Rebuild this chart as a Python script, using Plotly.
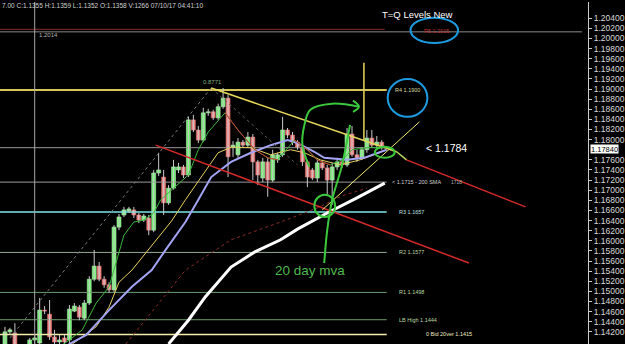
import plotly.graph_objects as go

# ---------------- candle data (bar index, prices) ----------------
bars = list(range(77))
opens = [1.1384, 1.1420, 1.1418, 1.1388, 1.1380, 1.1384, 1.1404, 1.1398, 1.1463, 1.1455,
         1.1410, 1.1400, 1.1408, 1.1404, 1.1461, 1.1469, 1.1447, 1.1477, 1.1524, 1.1550,
         1.1524, 1.1513, 1.1503, 1.1627, 1.1651, 1.1659, 1.1661, 1.1651, 1.1641, 1.1645,
         1.1621, 1.1734, 1.1726, 1.1675, 1.1704, 1.1740, 1.1746, 1.1730, 1.1839, 1.1819,
         1.1799, 1.1853, 1.1855, 1.1843, 1.1865, 1.1882, 1.1785, 1.1770, 1.1795, 1.1789,
         1.1805, 1.1756, 1.1724, 1.1756, 1.1720, 1.1760, 1.1770, 1.1819, 1.1809, 1.1795,
         1.1785, 1.1756, 1.1740, 1.1724, 1.1754, 1.1744, 1.1720, 1.1746, 1.1756, 1.1750,
         1.1811, 1.1770, 1.1764, 1.1780, 1.1803, 1.1789, 1.1795]
highs = [1.1430, 1.1428, 1.1437, 1.1394, 1.1388, 1.1408, 1.1414, 1.1487, 1.1471, 1.1483,
         1.1424, 1.1414, 1.1414, 1.1473, 1.1477, 1.1473, 1.1483, 1.1530, 1.1582, 1.1558,
         1.1530, 1.1518, 1.1631, 1.1653, 1.1667, 1.1667, 1.1667, 1.1655, 1.1653, 1.1651,
         1.1740, 1.1774, 1.1740, 1.1710, 1.1760, 1.1754, 1.1750, 1.1845, 1.1849, 1.1827,
         1.1863, 1.1861, 1.1859, 1.1871, 1.1902, 1.1888, 1.1797, 1.1803, 1.1799, 1.1815,
         1.1811, 1.1760, 1.1764, 1.1764, 1.1780, 1.1774, 1.1845, 1.1823, 1.1815, 1.1799,
         1.1789, 1.1760, 1.1744, 1.1760, 1.1760, 1.1750, 1.1754, 1.1764, 1.1760, 1.1823,
         1.1827, 1.1780, 1.1785, 1.1819, 1.1819, 1.1807, 1.1799]
lows = [1.1374, 1.1414, 1.1380, 1.1374, 1.1374, 1.1380, 1.1394, 1.1388, 1.1455, 1.1404,
        1.1394, 1.1394, 1.1394, 1.1398, 1.1459, 1.1443, 1.1443, 1.1473, 1.1520, 1.1520,
        1.1507, 1.1497, 1.1499, 1.1621, 1.1647, 1.1655, 1.1645, 1.1635, 1.1637, 1.1611,
        1.1617, 1.1728, 1.1651, 1.1671, 1.1701, 1.1734, 1.1724, 1.1726, 1.1815, 1.1793,
        1.1795, 1.1847, 1.1839, 1.1839, 1.1861, 1.1726, 1.1766, 1.1764, 1.1785, 1.1785,
        1.1720, 1.1710, 1.1716, 1.1687, 1.1716, 1.1754, 1.1766, 1.1803, 1.1789, 1.1780,
        1.1748, 1.1706, 1.1720, 1.1716, 1.1740, 1.1691, 1.1671, 1.1740, 1.1744, 1.1746,
        1.1766, 1.1756, 1.1760, 1.1774, 1.1785, 1.1782, 1.1780]
closes = [1.1420, 1.1424, 1.1388, 1.1380, 1.1384, 1.1404, 1.1408, 1.1463, 1.1461, 1.1410,
          1.1400, 1.1404, 1.1400, 1.1465, 1.1471, 1.1449, 1.1477, 1.1524, 1.1550, 1.1524,
          1.1513, 1.1503, 1.1627, 1.1647, 1.1661, 1.1663, 1.1651, 1.1641, 1.1649, 1.1621,
          1.1734, 1.1740, 1.1675, 1.1704, 1.1746, 1.1746, 1.1730, 1.1839, 1.1819, 1.1799,
          1.1853, 1.1855, 1.1843, 1.1865, 1.1882, 1.1766, 1.1789, 1.1795, 1.1789, 1.1805,
          1.1756, 1.1730, 1.1756, 1.1720, 1.1770, 1.1770, 1.1819, 1.1809, 1.1795, 1.1785,
          1.1756, 1.1726, 1.1724, 1.1754, 1.1744, 1.1720, 1.1746, 1.1756, 1.1750, 1.1811,
          1.1770, 1.1764, 1.1780, 1.1803, 1.1789, 1.1795, 1.1784]

# ---------------- moving averages (bar index, price) ----------------
ma_slow_x = [11.4, 13, 16.4, 21, 25.6, 29.6, 32.4, 36.4, 39, 41.6, 45.6, 49.6, 53.6, 57, 59, 62.4, 64.4, 69, 72.4, 75.6, 77]
ma_slow_y = [1.1384, 1.1396, 1.1414, 1.1463, 1.1509, 1.1542, 1.1582, 1.1637, 1.1681, 1.1726, 1.1756,
             1.1774, 1.1789, 1.1799, 1.1793, 1.1776, 1.1764, 1.1760, 1.1764, 1.1776, 1.1780]
ma_mid_x = [13.6, 18.4, 21, 23, 25.6, 28.4, 31, 33.6, 36.4, 39.6, 43, 45.6, 49.6, 53.6, 57.6, 60.4, 63.6, 67.6, 71.6, 75.6]
ma_mid_y = [1.1396, 1.1430, 1.1469, 1.1518, 1.1542, 1.1576, 1.1608, 1.1639, 1.1681, 1.1726, 1.1774,
            1.1785, 1.1784, 1.1770, 1.1780, 1.1774, 1.1760, 1.1750, 1.1760, 1.1774]
ma_fast_x = [10, 13, 15.6, 18.4, 21, 22.4, 24, 26, 28, 30, 31.4, 34, 37, 39, 41, 44.4, 47, 50.4, 53, 55,
             57, 58.4, 61, 63, 65.6, 68, 70, 73, 76]
ma_fast_y = [1.1384, 1.1404, 1.1424, 1.1477, 1.1509, 1.1558, 1.1611, 1.1637, 1.1641, 1.1655, 1.1681,
             1.1704, 1.1730, 1.1780, 1.1815, 1.1853, 1.1819, 1.1780, 1.1764, 1.1760, 1.1784, 1.1799,
             1.1780, 1.1760, 1.1750, 1.1760, 1.1780, 1.1784, 1.1785]
fast_falling_spans = [(15, 19), (21, 24)]
ma200_x = [33, 37, 40.4, 45.6, 50.4, 55.6, 59, 65, 71, 76.6]
ma200_y = [1.1396, 1.1443, 1.1489, 1.1548, 1.1578, 1.1602, 1.1623, 1.1655, 1.1685, 1.1714]
ma_dot_x = [24.4, 36.4, 45.6, 55.6, 63, 68, 73]
ma_dot_y = [1.1396, 1.1542, 1.1602, 1.1637, 1.1665, 1.1689, 1.1704]

# ---------------- horizontal levels ----------------
level_prices = [1.2018, 1.2013, 1.1898, 1.1784, 1.1716, 1.1657, 1.1577, 1.1498, 1.1444, 1.1415]
level_ends = [76.6, 116.4, 77, 77, 77, 77, 77, 77, 77, 77]
level_colors = ["#8e2b2b", "#8a8a8a", "#d6c65a", "#9a9a9a", "#9a9a9a", "#7fe6e6",
                "#93aa93", "#6f9f6f", "#6f9f6f", "#f3ecaa"]
level_widths = [1, 1, 2, 1, 1, 1.5, 1, 1, 1, 1.5]

# ---------------- trend lines (bar index, price) ----------------
trend_lines = [
    ([1, 41.6], [1.1408, 1.1902], "#777777", 1, "dot"),
    ([41.6, 59], [1.1902, 1.1750], "#5a5a5a", 1, "dot"),
    ([41.6, 79], [1.1902, 1.1776], "#e6d85a", 1.5, "solid"),
    ([79, 81], [1.1776, 1.1760], "#b8d860", 1.5, "solid"),
    ([81, 105], [1.1760, 1.1667], "#d42a2a", 1.5, "solid"),
    ([30.4, 93.6], [1.1789, 1.1556], "#d42a2a", 1.5, "solid"),
    ([64, 83.6], [1.1661, 1.1835], "#f2ea70", 1, "solid"),
    ([72.4, 72.4], [1.1952, 1.1799], "#e6d85a", 1.5, "solid"),
    ([6, 6], [1.2072, 1.1396], "#a8a8a8", 1, "solid"),
]

# hand-drawn green marks
arrow_x = [61.4, 60, 60.4, 61.6, 66, 71.4]
arrow_y = [1.1746, 1.1789, 1.1829, 1.1859, 1.1871, 1.1865]
arrow_head_x = [70.2, 71.4, 70.2]
arrow_head_y = [1.1877, 1.1865, 1.1855]
pointer_x = [64.4, 65, 66, 68, 69.6]
pointer_y = [1.1556, 1.1621, 1.1681, 1.1750, 1.1829]

# ellipses: (x0, x1, y0, y1, colour, width)
ellipses = [
    (81.8, 91.4, 1.1991, 1.2041, "#1e9be0", 2),
    (77.2, 85.2, 1.1845, 1.1920, "#1e9be0", 2),
    (62.4, 66.6, 1.1647, 1.1691, "#3cc83c", 2),
    (74.6, 78.6, 1.1764, 1.1786, "#3cc83c", 2),
]

# text labels: (x, y, text, colour, size, anchor)
labels = [
    (-1, 1.2066, "7.00 C:1.1355 H:1.1359 L:1.1352 O:1.1358 V:1266 07/10/17 04:41:10", "#d0d0d0", 6.5, "left"),
    (6.5, 1.2007, "1.2014", "#b0b0b0", 6, "left"),
    (87, 1.2015, "R5 1.2015", "#c83030", 5.5, "center"),
    (81.2, 1.1898, "R4 1.1900", "#d8d8a0", 5.5, "center"),
    (39.5, 1.1914, "0.8771", "#7fb07f", 6, "left"),
    (83.3, 1.2048, "T=Q Levels New", "#ffffff", 9.5, "center"),
    (84.6, 1.1784, "< 1.1784", "#ffffff", 10.5, "left"),
    (77.6, 1.1716, "< 1.1715 - 200 SMA", "#d0d0d0", 5.5, "left"),
    (89.6, 1.1717, "1718", "#b0b0b0", 5, "left"),
    (79, 1.1657, "R3 1.1657", "#bfe0e0", 5.5, "left"),
    (79, 1.1577, "R2 1.1577", "#b8d8a0", 5.5, "left"),
    (79, 1.1498, "R1 1.1498", "#b8d8a0", 5.5, "left"),
    (79, 1.1444, "LB High 1.1444", "#b8d8a0", 5.5, "left"),
    (84.6, 1.1415, "0 Bid 20ver 1.1415", "#f0ecc0", 5.5, "left"),
    (61.6, 1.1542, "20 day mva", "#4fb84f", 13.5, "center"),
]

tick_labels = ["1.20400", "1.20200", "1.20000", "1.19800", "1.19600", "1.19400", "1.19200",
               "1.19000", "1.18800", "1.18600", "1.18400", "1.18200", "1.18000", "1.17600",
               "1.17400", "1.17200", "1.17000", "1.16800", "1.16600", "1.16400", "1.16200",
               "1.16000", "1.15800", "1.15600", "1.15400", "1.15200", "1.15000", "1.14800",
               "1.14600", "1.14400", "1.14200"]
last_price = 1.1784

fig = go.Figure()

for p, e, c, w in zip(level_prices, level_ends, level_colors, level_widths):
    fig.add_trace(go.Scatter(x=[-1, e], y=[p, p], mode="lines",
                             line=dict(color=c, width=w), hoverinfo="skip"))

fig.add_trace(go.Scatter(x=ma_dot_x, y=ma_dot_y, mode="lines",
                         line=dict(color="#8a2a2a", width=1, dash="dot"), hoverinfo="skip"))

# candles: wicks as line segments, bodies as floating bars
wick_x, wick_y = [], []
for b, h, l in zip(bars, highs, lows):
    wick_x += [b, b, None]
    wick_y += [h, l, None]
fig.add_trace(go.Scatter(x=wick_x, y=wick_y, mode="lines",
                         line=dict(color="#c8c8c8", width=1), hoverinfo="skip"))

up = [i for i in bars if closes[i] >= opens[i]]
dn = [i for i in bars if closes[i] < opens[i]]
fig.add_trace(go.Bar(x=[bars[i] for i in up],
                     base=[opens[i] for i in up],
                     y=[max(closes[i] - opens[i], 0.00012) for i in up],
                     width=0.8, marker=dict(color="#6ff26f", line=dict(color="#b6f0b6", width=0.6)),
                     hoverinfo="skip"))
fig.add_trace(go.Bar(x=[bars[i] for i in dn],
                     base=[closes[i] for i in dn],
                     y=[max(opens[i] - closes[i], 0.00012) for i in dn],
                     width=0.8, marker=dict(color="#f08a8a", line=dict(color="#e06a6a", width=0.6)),
                     hoverinfo="skip"))

fig.add_trace(go.Scatter(x=ma200_x, y=ma200_y, mode="lines",
                         line=dict(color="#ffffff", width=3), hoverinfo="skip"))
fig.add_trace(go.Scatter(x=ma_mid_x, y=ma_mid_y, mode="lines",
                         line=dict(color="#e8d060", width=1), hoverinfo="skip"))
fig.add_trace(go.Scatter(x=ma_slow_x, y=ma_slow_y, mode="lines",
                         line=dict(color="#a4a4f4", width=2), hoverinfo="skip"))
fig.add_trace(go.Scatter(x=ma_fast_x, y=ma_fast_y, mode="lines",
                         line=dict(color="#3cb83c", width=1), hoverinfo="skip"))
for a, b in fast_falling_spans:
    fig.add_trace(go.Scatter(x=ma_fast_x[a:b + 1], y=ma_fast_y[a:b + 1], mode="lines",
                             line=dict(color="#d03030", width=1), hoverinfo="skip"))

for xs, ys, c, w, d in trend_lines:
    fig.add_trace(go.Scatter(x=xs, y=ys, mode="lines",
                             line=dict(color=c, width=w, dash=d), hoverinfo="skip"))

for xs, ys in [(arrow_x, arrow_y), (arrow_head_x, arrow_head_y), (pointer_x, pointer_y)]:
    fig.add_trace(go.Scatter(x=xs, y=ys, mode="lines", line=dict(color="#3cc83c", width=2, shape="spline"),
                             hoverinfo="skip"))

for x0, x1, y0, y1, c, w in ellipses:
    fig.add_shape(type="circle", xref="x", yref="y", x0=x0, x1=x1, y0=y0, y1=y1,
                  line=dict(color=c, width=w))

for x, y, t, c, s, a in labels:
    fig.add_annotation(x=x, y=y, text=t, showarrow=False, xanchor=a, yanchor="middle",
                       font=dict(color=c, size=s, family="Liberation Sans"))

fig.add_annotation(x=1, xref="paper", y=last_price, yref="y", text="1.17840", showarrow=False,
                   xanchor="left", yanchor="middle", xshift=2, yshift=-1, bgcolor="#ffffff", borderpad=0,
                   height=8, font=dict(color="#000000", size=7.5, family="Liberation Sans"))

fig.update_layout(
    width=625, height=344,
    margin=dict(l=0, r=32, t=2, b=0),
    paper_bgcolor="#000000", plot_bgcolor="#000000",
    showlegend=False, barmode="overlay",
    xaxis=dict(range=[-1, 117.6], visible=False, fixedrange=True),
    yaxis=dict(range=[1.1396, 1.2072], side="right", showgrid=False, zeroline=False,
               tickvals=[float(t) for t in tick_labels], ticktext=tick_labels,
               tickfont=dict(color="#d8d8d8", size=8.5, family="Liberation Sans"),
               ticks="outside", ticklen=3, tickcolor="#cccccc",
               showline=True, linecolor="#cccccc", linewidth=1),
)

fig.write_html("out.html")
